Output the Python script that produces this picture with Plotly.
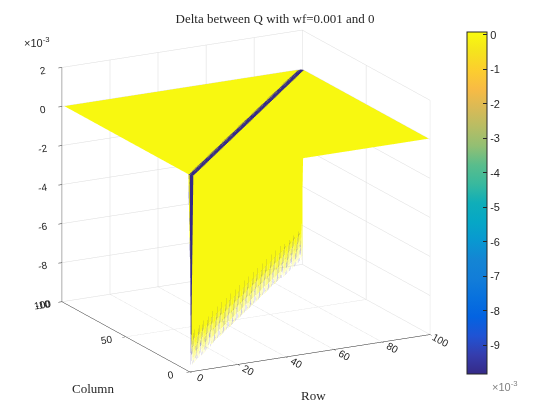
#-- Delta between Q with wf=0.001 and 0, plotted as a 3D surface

import numpy as np
import plotly.graph_objects as go

#-- Data
rows = list(range(1, 101))
cols = list(range(1, 101))
delta_offdiag = 0.0        # everywhere away from the diagonal
delta_diag = -0.0098       # value on the Row == Column diagonal

z_ticks = [-0.010, -0.008, -0.006, -0.004, -0.002, 0.0, 0.002]
z_ticktext = ["-10", "-8", "-6", "-4", "-2", "0", "2"]
cb_ticks = [-0.009, -0.008, -0.007, -0.006, -0.005, -0.004, -0.003, -0.002, -0.001, 0.0]
cb_ticktext = ["-9", "-8", "-7", "-6", "-5", "-4", "-3", "-2", "-1", "0"]

# parula (sampled)
parula = [
    [0.2081, 0.1663, 0.5292], [0.2081, 0.2386, 0.6771], [0.1253, 0.3242, 0.8303],
    [0.0117, 0.3875, 0.8820], [0.0329, 0.4430, 0.8720], [0.0722, 0.4887, 0.8467],
    [0.0793, 0.5200, 0.8312], [0.0343, 0.5966, 0.8199], [0.0228, 0.6535, 0.7768],
    [0.0590, 0.6838, 0.7254], [0.2178, 0.7250, 0.6193], [0.3482, 0.7424, 0.5473],
    [0.5709, 0.7485, 0.4494], [0.7184, 0.7411, 0.3905], [0.8507, 0.7299, 0.3360],
    [0.9739, 0.7314, 0.2666], [0.9880, 0.8066, 0.1794], [0.9589, 0.8949, 0.1132],
    [0.9763, 0.9831, 0.0538],
]
colorscale = [[i / (len(parula) - 1), "rgb(%d,%d,%d)" % tuple(int(round(255 * c)) for c in p)]
              for i, p in enumerate(parula)]

#-- Build the grid
n = len(rows)
Z = np.full((n, len(cols)), delta_offdiag)
for k in range(min(n, len(cols))):
    Z[k, k] = delta_diag

XX, YY = np.meshgrid(rows, cols, indexing="ij")
xv, yv, zv = XX.ravel(), YY.ravel(), Z.ravel()

# quads split into triangles, each coloured by its first corner
I, J, K, C = [], [], [], []
m = len(cols)
for i in range(n - 1):
    for j in range(m - 1):
        v00 = i * m + j
        v01 = i * m + j + 1
        v10 = (i + 1) * m + j
        v11 = (i + 1) * m + j + 1
        I += [v00, v10]
        J += [v10, v11]
        K += [v01, v01]
        C += [Z[i, j], Z[i + 1, j]]

fig = go.Figure()
fig.add_trace(go.Mesh3d(
    x=xv, y=yv, z=zv, i=I, j=J, k=K,
    intensity=C, intensitymode="cell",
    colorscale=colorscale, cmin=-0.00983, cmax=0.00009,
    flatshading=True,
    lighting=dict(ambient=1, diffuse=0, specular=0, roughness=1, fresnel=0),
    hoverinfo="skip",
    colorbar=dict(
        x=0.82, xanchor="left", y=0.536, yanchor="middle", xpad=0, ypad=0,
        len=0.814, lenmode="fraction", thickness=20,
        outlinecolor="#262626", outlinewidth=1,
        tickvals=cb_ticks, ticktext=cb_ticktext,
        ticks="inside", ticklen=4, tickcolor="#262626",
        tickfont=dict(family="Liberation Sans", size=11, color="#262626"),
    ),
))

axis_style = dict(
    showbackground=False, showgrid=True, gridcolor="#dcdcdc", gridwidth=1,
    showline=True, linecolor="#262626", linewidth=1, zeroline=False,
    ticks="outside", tickcolor="#262626", ticklen=4, showspikes=False,
    tickfont=dict(family="Liberation Sans", size=11, color="#262626"),
    title=dict(text=""),
)

box = 1.44
fig.update_layout(
    width=560, height=420,
    margin=dict(l=0, r=0, t=0, b=0),
    paper_bgcolor="white",
    title=dict(text="Delta between Q with wf=0.001 and 0", x=0.477, xanchor="center",
               y=0.976, yanchor="middle",
               font=dict(family="Liberation Serif", size=13, color="#262626")),
    scene=dict(
        domain=dict(x=[0.025, 0.825], y=[0.091, 0.991]),
        xaxis=dict(axis_style, range=[0, 100], dtick=20),
        yaxis=dict(axis_style, range=[0, 100], dtick=50),
        zaxis=dict(axis_style, range=[-0.010, 0.002], tickvals=z_ticks, ticktext=z_ticktext),
        aspectmode="manual", aspectratio=dict(x=box, y=box, z=0.9 * box),
        camera=dict(eye=dict(x=-0.449 * 1.9, y=-0.844 * 1.9, z=0.292 * 1.9),
                    up=dict(x=0, y=0, z=1), center=dict(x=0, y=0, z=0),
                    projection=dict(type="orthographic")),
    ),
    annotations=[
        dict(text="\u00d710<sup>-3</sup>", x=0.025, y=0.92, xref="paper", yref="paper",
             xanchor="left", yanchor="middle", showarrow=False,
             font=dict(family="Liberation Sans", size=11, color="#262626")),
        dict(text="\u00d710<sup>-3</sup>", x=0.86, y=0.1, xref="paper", yref="paper",
             xanchor="left", yanchor="middle", showarrow=False,
             font=dict(family="Liberation Sans", size=11, color="#808080")),
        dict(text="Row", x=305 / 560, y=1 - 387 / 420, xref="paper", yref="paper",
             xanchor="center", yanchor="middle", showarrow=False,
             font=dict(family="Liberation Serif", size=13, color="#262626")),
        dict(text="Column", x=85 / 560, y=1 - 380 / 420, xref="paper", yref="paper",
             xanchor="center", yanchor="middle", showarrow=False,
             font=dict(family="Liberation Serif", size=13, color="#262626")),
    ],
)

fig.write_html("out.html")
